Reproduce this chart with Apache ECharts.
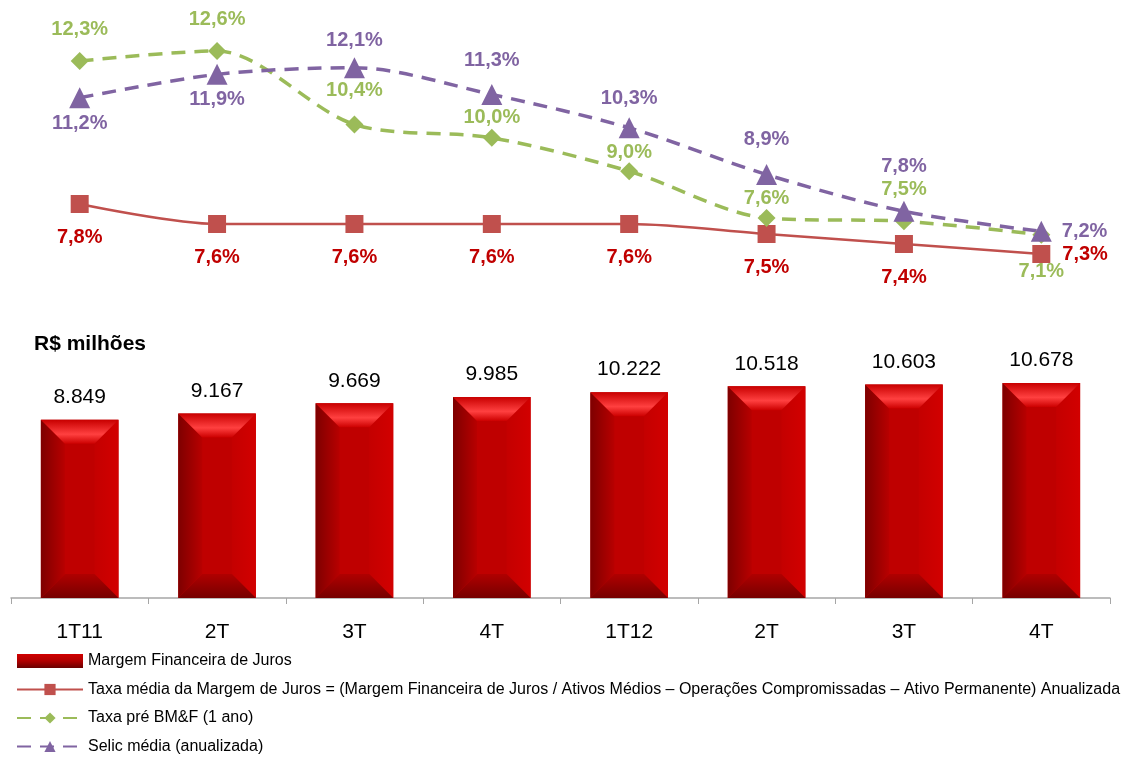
<!DOCTYPE html>
<html>
<head>
    <meta charset="utf-8">
    <title>Margem Financeira de Juros</title>
    <script src="https://cdn.jsdelivr.net/npm/echarts@6/dist/echarts.min.js"></script>
    <style type="text/css">
        body { margin: 0; background: #fff; }
        #main { width: 1129px; height: 758px; }
    </style>
</head>
<body>
    <div id="main"></div>

    <script type="text/javascript">
        var categories = ['1T11', '2T', '3T', '4T', '1T12', '2T', '3T', '4T'];
        var margem = [8849, 9167, 9669, 9985, 10222, 10518, 10603, 10678];
        var taxaMedia = [7.8, 7.6, 7.6, 7.6, 7.6, 7.5, 7.4, 7.3];
        var taxaPre = [12.3, 12.6, 10.4, 10.0, 9.0, 7.6, 7.5, 7.1];
        var selic = [11.2, 11.9, 12.1, 11.3, 10.3, 8.9, 7.8, 7.2];

        var nomes = [
            'Margem Financeira de Juros',
            'Taxa média da Margem de Juros = (Margem Financeira de Juros / Ativos Médios – Operações Compromissadas – Ativo Permanente) Anualizada',
            'Taxa pré BM&F (1 ano)',
            'Selic média (anualizada)'
        ];

        // where each point label sits, and how far from the marker
        var posMedia = ['bottom', 'bottom', 'bottom', 'bottom', 'bottom', 'bottom', 'bottom', 'right'];
        var posPre = ['top', 'top', 'top', 'top', 'top', 'top', 'top', 'bottom'];
        var posSelic = ['bottom', 'bottom', 'top', 'top', 'top', 'top', 'top', 'right'];
        var gapMedia = [14, 14, 14, 14, 14, 14, 14, 12];
        var gapPre = [13, 13, 15, 1, 0, 1, 13, 18];
        var gapSelic = [5, 5, 7, 13, 9, 15, 24, 10];

        var font = '"Liberation Sans", Arial, sans-serif';

        function milhar(v) {
            return String(v).replace(/\B(?=(\d{3})+(?!\d))/g, '.');
        }
        function pct(v) {
            return v.toFixed(1).replace('.', ',') + '%';
        }

        function grad(x1, y1, x2, y2, stops) {
            return new echarts.graphic.LinearGradient(x1, y1, x2, y2, stops);
        }

        // bevelled red bar like the excel one
        function renderBar(params, api) {
            var i = api.value(0), v = api.value(1);
            var top = api.coord([i, v]);
            var base = api.coord([i, 0]);
            var w = api.size([1, 0])[0] * 0.565;
            var x0 = top[0] - w / 2, x1 = top[0] + w / 2;
            var y0 = top[1], y1 = base[1];
            var b = Math.min(24, (y1 - y0) / 2, w / 2);
            return {
                type: 'group',
                children: [
                    { type: 'rect', shape: { x: x0, y: y0, width: w, height: y1 - y0 },
                      style: { fill: '#bf0000' } },
                    { type: 'polygon', shape: { points: [[x0, y0], [x0 + b, y0 + b], [x0 + b, y1 - b], [x0, y1]] },
                      style: { fill: grad(0, 0, 1, 0, [{ offset: 0, color: '#7e0000' }, { offset: 1, color: '#b80000' }]) } },
                    { type: 'polygon', shape: { points: [[x1, y0], [x1 - b, y0 + b], [x1 - b, y1 - b], [x1, y1]] },
                      style: { fill: grad(0, 0, 1, 0, [{ offset: 0, color: '#c40000' }, { offset: 1, color: '#d20000' }]) } },
                    { type: 'polygon', shape: { points: [[x0, y0], [x1, y0], [x1 - b, y0 + b], [x0 + b, y0 + b]] },
                      style: { fill: grad(0, 0, 0, 1, [{ offset: 0, color: '#c80000' }, { offset: 0.6, color: '#ff4040' }, { offset: 1, color: '#cc0000' }]) } },
                    { type: 'polygon', shape: { points: [[x0, y1], [x1, y1], [x1 - b, y1 - b], [x0 + b, y1 - b]] },
                      style: { fill: grad(0, 0, 0, 1, [{ offset: 0, color: '#b00000' }, { offset: 1, color: '#760000' }]) } },
                    { type: 'text', x: top[0], y: y0 - 12,
                      style: { text: milhar(v), align: 'center', verticalAlign: 'bottom',
                               fontSize: 21, fontFamily: font, fill: '#000' } }
                ]
            };
        }

        function pontos(values, pos, gap) {
            return values.map(function (v, i) {
                return { value: v, label: { position: pos[i], distance: gap[i] } };
            });
        }

        function linha(nome, eixo, values, pos, gap, cor, corTexto, simbolo, tracejado) {
            return {
                name: nome,
                type: 'line',
                yAxisIndex: eixo,
                data: pontos(values, pos, gap),
                smooth: 0.3,
                symbol: simbolo,
                symbolSize: simbolo === 'triangle' ? 21 : 18,
                z: 5,
                lineStyle: { color: cor, width: tracejado ? 3.5 : 2.5, type: tracejado ? [14, 9] : 'solid' },
                itemStyle: { color: cor },
                label: {
                    show: true,
                    formatter: function (p) { return pct(p.value); },
                    color: corTexto,
                    fontSize: 20,
                    fontWeight: 'bold',
                    fontFamily: font
                }
            };
        }

        var chart = echarts.init(document.getElementById('main'));

        var option = {
            animation: false,
            textStyle: { fontFamily: font },
            grid: { left: 11, right: 19, top: 40, bottom: 160 },
            legend: {
                orient: 'vertical',
                left: 16,
                top: 653,
                padding: 0,
                itemWidth: 66,
                itemHeight: 14,
                itemGap: 12.5,
                textStyle: { fontSize: 16, lineHeight: 16, color: '#000', fontFamily: font },
                data: [
                    { name: nomes[0], icon: 'rect',
                      itemStyle: { color: grad(0, 0, 0, 1, [{ offset: 0, color: '#d00000' }, { offset: 0.5, color: '#b00000' }, { offset: 1, color: '#6a0000' }]) } },
                    nomes[1], nomes[2], nomes[3]
                ]
            },
            graphic: [{
                type: 'text', left: 34, top: 334,
                style: { text: 'R$ milhões', fontSize: 21, fontWeight: 'bold', fill: '#000', fontFamily: font }
            }],
            xAxis: {
                type: 'category',
                data: categories,
                boundaryGap: true,
                axisLine: { lineStyle: { color: '#a6a6a6', width: 1.5 } },
                axisTick: { show: true, length: 6, interval: 0, lineStyle: { color: '#a6a6a6' } },
                axisLabel: { interval: 0, fontSize: 21, color: '#000', margin: 24, fontFamily: font }
            },
            yAxis: [
                { type: 'value', min: 0, max: 27716, show: false, splitLine: { show: false } },
                { type: 'value', min: -3.777, max: 12.929, show: false, splitLine: { show: false } },
                { type: 'value', min: 3.86, max: 9.44, show: false, splitLine: { show: false } }
            ],
            series: [
                {
                    name: nomes[0],
                    type: 'custom',
                    renderItem: renderBar,
                    itemStyle: { color: '#b00000' },
                    encode: { x: 0, y: 1 },
                    data: margem.map(function (v, i) { return [i, v]; }),
                    z: 2
                },
                linha(nomes[1], 2, taxaMedia, posMedia, gapMedia, '#c0504d', '#c00000', 'rect', false),
                linha(nomes[2], 1, taxaPre, posPre, gapPre, '#9bbb59', '#9bbb59', 'diamond', true),
                linha(nomes[3], 1, selic, posSelic, gapSelic, '#8064a2', '#8064a2', 'triangle', true)
            ]
        };
        chart.setOption(option);
    </script>
</body>
</html>
